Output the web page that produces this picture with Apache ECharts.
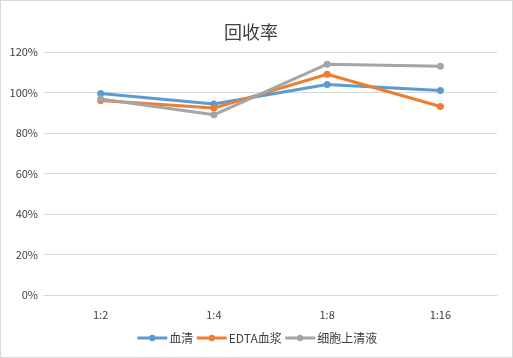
<!DOCTYPE html>
<html><head><meta charset="utf-8">
<script src="https://cdn.jsdelivr.net/npm/echarts@6/dist/echarts.min.js"></script>
<style>html,body{margin:0;padding:0;background:#fff}#c{width:511px;height:356px;border:1px solid #d9d9d9}</style>
</head><body><div id="c"></div>
<script>
var categories = ['1:2','1:4','1:8','1:16'];
var seriesNames = ['血清','EDTA血浆','细胞上清液'];
var serum = [99.5, 94.3, 104, 101];
var edta = [96, 92.3, 109, 93.1];
var supernatant = [96.8, 89, 114, 113];
var colors = ['#5B9BD5','#ED7D31','#A5A5A5'];
var chart = echarts.init(document.getElementById('c'));
var font = '"Microsoft YaHei","Noto Sans CJK SC",sans-serif';
function mk(name, data, i){
  return {name:name,type:'line',data:data,symbol:'circle',symbolSize:7,
    lineStyle:{width:3,color:colors[i]},itemStyle:{color:colors[i]}};
}
chart.setOption({
  animation:false,
  title:{text:'回收率',left:218,top:17,textStyle:{fontFamily:'"Noto Sans CJK SC",serif',fontWeight:'normal',fontSize:18,color:'#404040'}},
  legend:{bottom:8,left:'center',itemWidth:30,itemHeight:8,itemGap:2,
    lineStyle:{width:3},
    textStyle:{fontFamily:font,fontSize:12,color:'#404040',padding:[0,0,0,-3]},
    data:seriesNames},
  grid:{left:43,right:15,top:51,bottom:62,containLabel:false},
  xAxis:{type:'category',data:categories,boundaryGap:true,
    axisLine:{lineStyle:{color:'#d9d9d9'}},axisTick:{show:false},
    axisLabel:{color:'#404040',fontSize:11,fontFamily:font,margin:14}},
  yAxis:{type:'value',min:0,max:120,interval:20,
    axisLine:{show:false},axisTick:{show:false},
    splitLine:{lineStyle:{color:'#d9d9d9'}},
    axisLabel:{formatter:'{value}%',color:'#404040',fontSize:11,fontFamily:font,margin:6}},
  series:[mk(seriesNames[0],serum,0),mk(seriesNames[1],edta,1),mk(seriesNames[2],supernatant,2)]
});
</script></body></html>
